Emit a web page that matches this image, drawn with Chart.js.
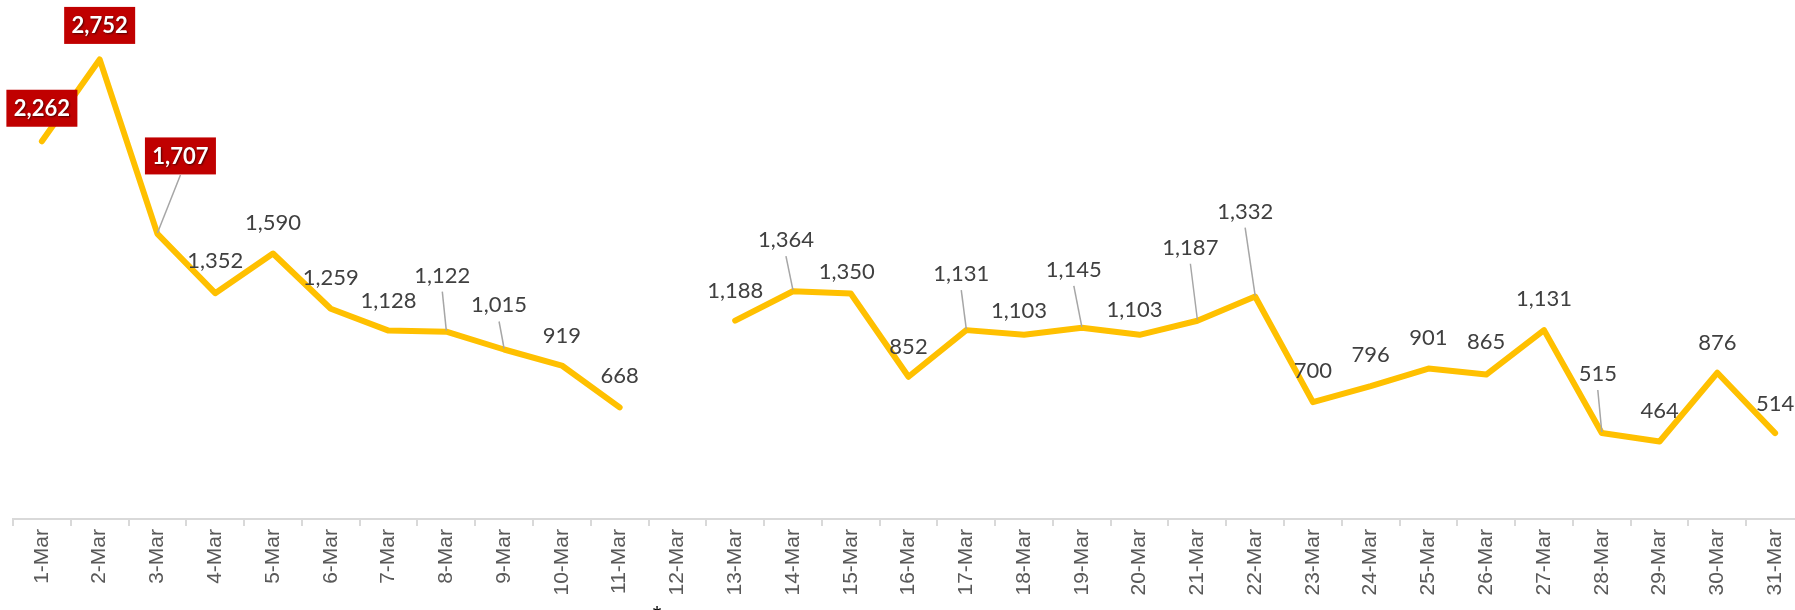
<!DOCTYPE html>
<html lang="en">
<head>
    <meta charset="UTF-8">
    <title>March daily counts</title>
    <style>
        html, body {
            margin: 0;
            padding: 0;
            background: #ffffff;
            overflow: hidden;
        }
        #chart-box {
            position: relative;
            width: 1805px; /* plot runs a little past the right edge, like the original */
            height: 610px;
        }
    </style>
    <script src="https://cdn.jsdelivr.net/npm/chart.js"></script>
</head>
<body>
    <div id="chart-box">
        <canvas id="marchChart"></canvas>
    </div>

    <script>
        // Categories (day of March)
        const days = [
            '1-Mar', '2-Mar', '3-Mar', '4-Mar', '5-Mar', '6-Mar', '7-Mar', '8-Mar', '9-Mar', '10-Mar',
            '11-Mar', '12-Mar', '13-Mar', '14-Mar', '15-Mar', '16-Mar', '17-Mar', '18-Mar', '19-Mar', '20-Mar',
            '21-Mar', '22-Mar', '23-Mar', '24-Mar', '25-Mar', '26-Mar', '27-Mar', '28-Mar', '29-Mar', '30-Mar',
            '31-Mar'
        ];

        // Daily values (12-Mar missing)
        const counts = [
            2262, 2752, 1707, 1352, 1590, 1259, 1128, 1122, 1015, 919,
            668, null, 1188, 1364, 1350, 852, 1131, 1103, 1145, 1103,
            1187, 1332, 700, 796, 901, 865, 1131, 515, 464, 876,
            514
        ];

        // Which points get the red highlighted label
        const highlighted = [0, 1, 2];

        // Label offsets from the point (Excel-style manual placement), and which ones have a leader line
        const labelDx = [0, 0, 23, 0, 0, 0, 0, -4, -5, 0, 0, 0, 0, -7, -4, 0, -5, -5, -8, -5, -7, -10, 0, 0, 0, 0, 0, -4, 0, 0, 0];
        const labelDy = [-33, -34, -78, -33, -31, -32, -31, -57, -45, -31, -32, 0, -31, -52, -23, -31, -57, -25, -59, -26, -74, -86, -32, -32, -32, -34, -32, -60, -32, -31, -30];
        const leaders = [2, 7, 8, 13, 16, 18, 20, 21, 27];

        const fmt = new Intl.NumberFormat('en-US');

        // Draws the data labels, leader lines and the footnote marker
        const labelPlugin = {
            id: 'labelPlugin',
            afterDatasetsDraw(chart) {
                const ctx = chart.ctx;
                const meta = chart.getDatasetMeta(0);
                ctx.save();
                meta.data.forEach((pt, i) => {
                    if (counts[i] === null) return;
                    const cx = pt.x + labelDx[i];
                    const cy = pt.y + labelDy[i];
                    const isHi = highlighted.includes(i);

                    if (leaders.includes(i)) {
                        ctx.strokeStyle = '#A6A6A6';
                        ctx.lineWidth = 1.5;
                        ctx.beginPath();
                        ctx.moveTo(cx, cy + (isHi ? 19 : 17));
                        ctx.lineTo(pt.x, pt.y - 1);
                        ctx.stroke();
                    }

                    const text = fmt.format(counts[i]);
                    ctx.textAlign = 'center';
                    ctx.textBaseline = 'alphabetic';
                    if (isHi) {
                        ctx.fillStyle = '#C00000';
                        ctx.fillRect(cx - 35.5, cy - 18.5, 71, 37);
                        ctx.font = 'bold 22px Lato';
                        ctx.shadowColor = 'rgba(0,0,0,0.6)';
                        ctx.shadowOffsetX = 1;
                        ctx.shadowOffsetY = 1;
                        ctx.shadowBlur = 2;
                        ctx.fillStyle = '#FFFFFF';
                        ctx.fillText(text, cx, cy + 8);
                        ctx.shadowColor = 'transparent';
                        ctx.shadowBlur = 0;
                        ctx.shadowOffsetX = 0;
                        ctx.shadowOffsetY = 0;
                    } else {
                        ctx.font = '22px Lato';
                        ctx.fillStyle = '#404040';
                        ctx.fillText(text, cx, cy + 8);
                    }
                });

                // footnote marker under 12-Mar
                ctx.font = '22px "Liberation Sans"';
                ctx.fillStyle = '#000000';
                ctx.textAlign = 'center';
                ctx.textBaseline = 'top';
                ctx.fillText('*', 657, 604);
                ctx.restore();
            }
        };

        let marchCtx = document.getElementById('marchChart').getContext('2d');
        let marchChart = new Chart(marchCtx, {
            type: 'line',
            data: {
                labels: days,
                datasets: [{
                    label: 'Daily count',
                    data: counts,
                    borderColor: '#FFC000',
                    borderWidth: 6,
                    borderCapStyle: 'round',
                    borderJoinStyle: 'round',
                    pointRadius: 0,
                    pointHoverRadius: 0,
                    tension: 0,
                    spanGaps: false,
                    fill: false
                }]
            },
            options: {
                responsive: true,
                maintainAspectRatio: false,
                animation: false,
                devicePixelRatio: 1,
                layout: {
                    padding: { left: 13, right: 1, top: 18, bottom: 0 }
                },
                plugins: {
                    legend: { display: false },
                    tooltip: { enabled: false }
                },
                scales: {
                    x: {
                        offset: true,
                        grid: {
                            offset: true,
                            drawOnChartArea: false,
                            drawTicks: true,
                            tickLength: 7,
                            color: '#D9D9D9',
                            lineWidth: 2
                        },
                        border: { display: true, color: '#D9D9D9', width: 2 },
                        ticks: {
                            autoSkip: false,
                            minRotation: 90,
                            maxRotation: 90,
                            padding: 3,
                            color: '#595959',
                            font: { family: '"Liberation Sans", Arial, sans-serif', size: 21 }
                        },
                        afterFit: (scale) => { scale.height = 91; }
                    },
                    y: {
                        display: false,
                        min: 0,
                        max: 3000
                    }
                }
            },
            plugins: [labelPlugin]
        });
    </script>
</body>
</html>
